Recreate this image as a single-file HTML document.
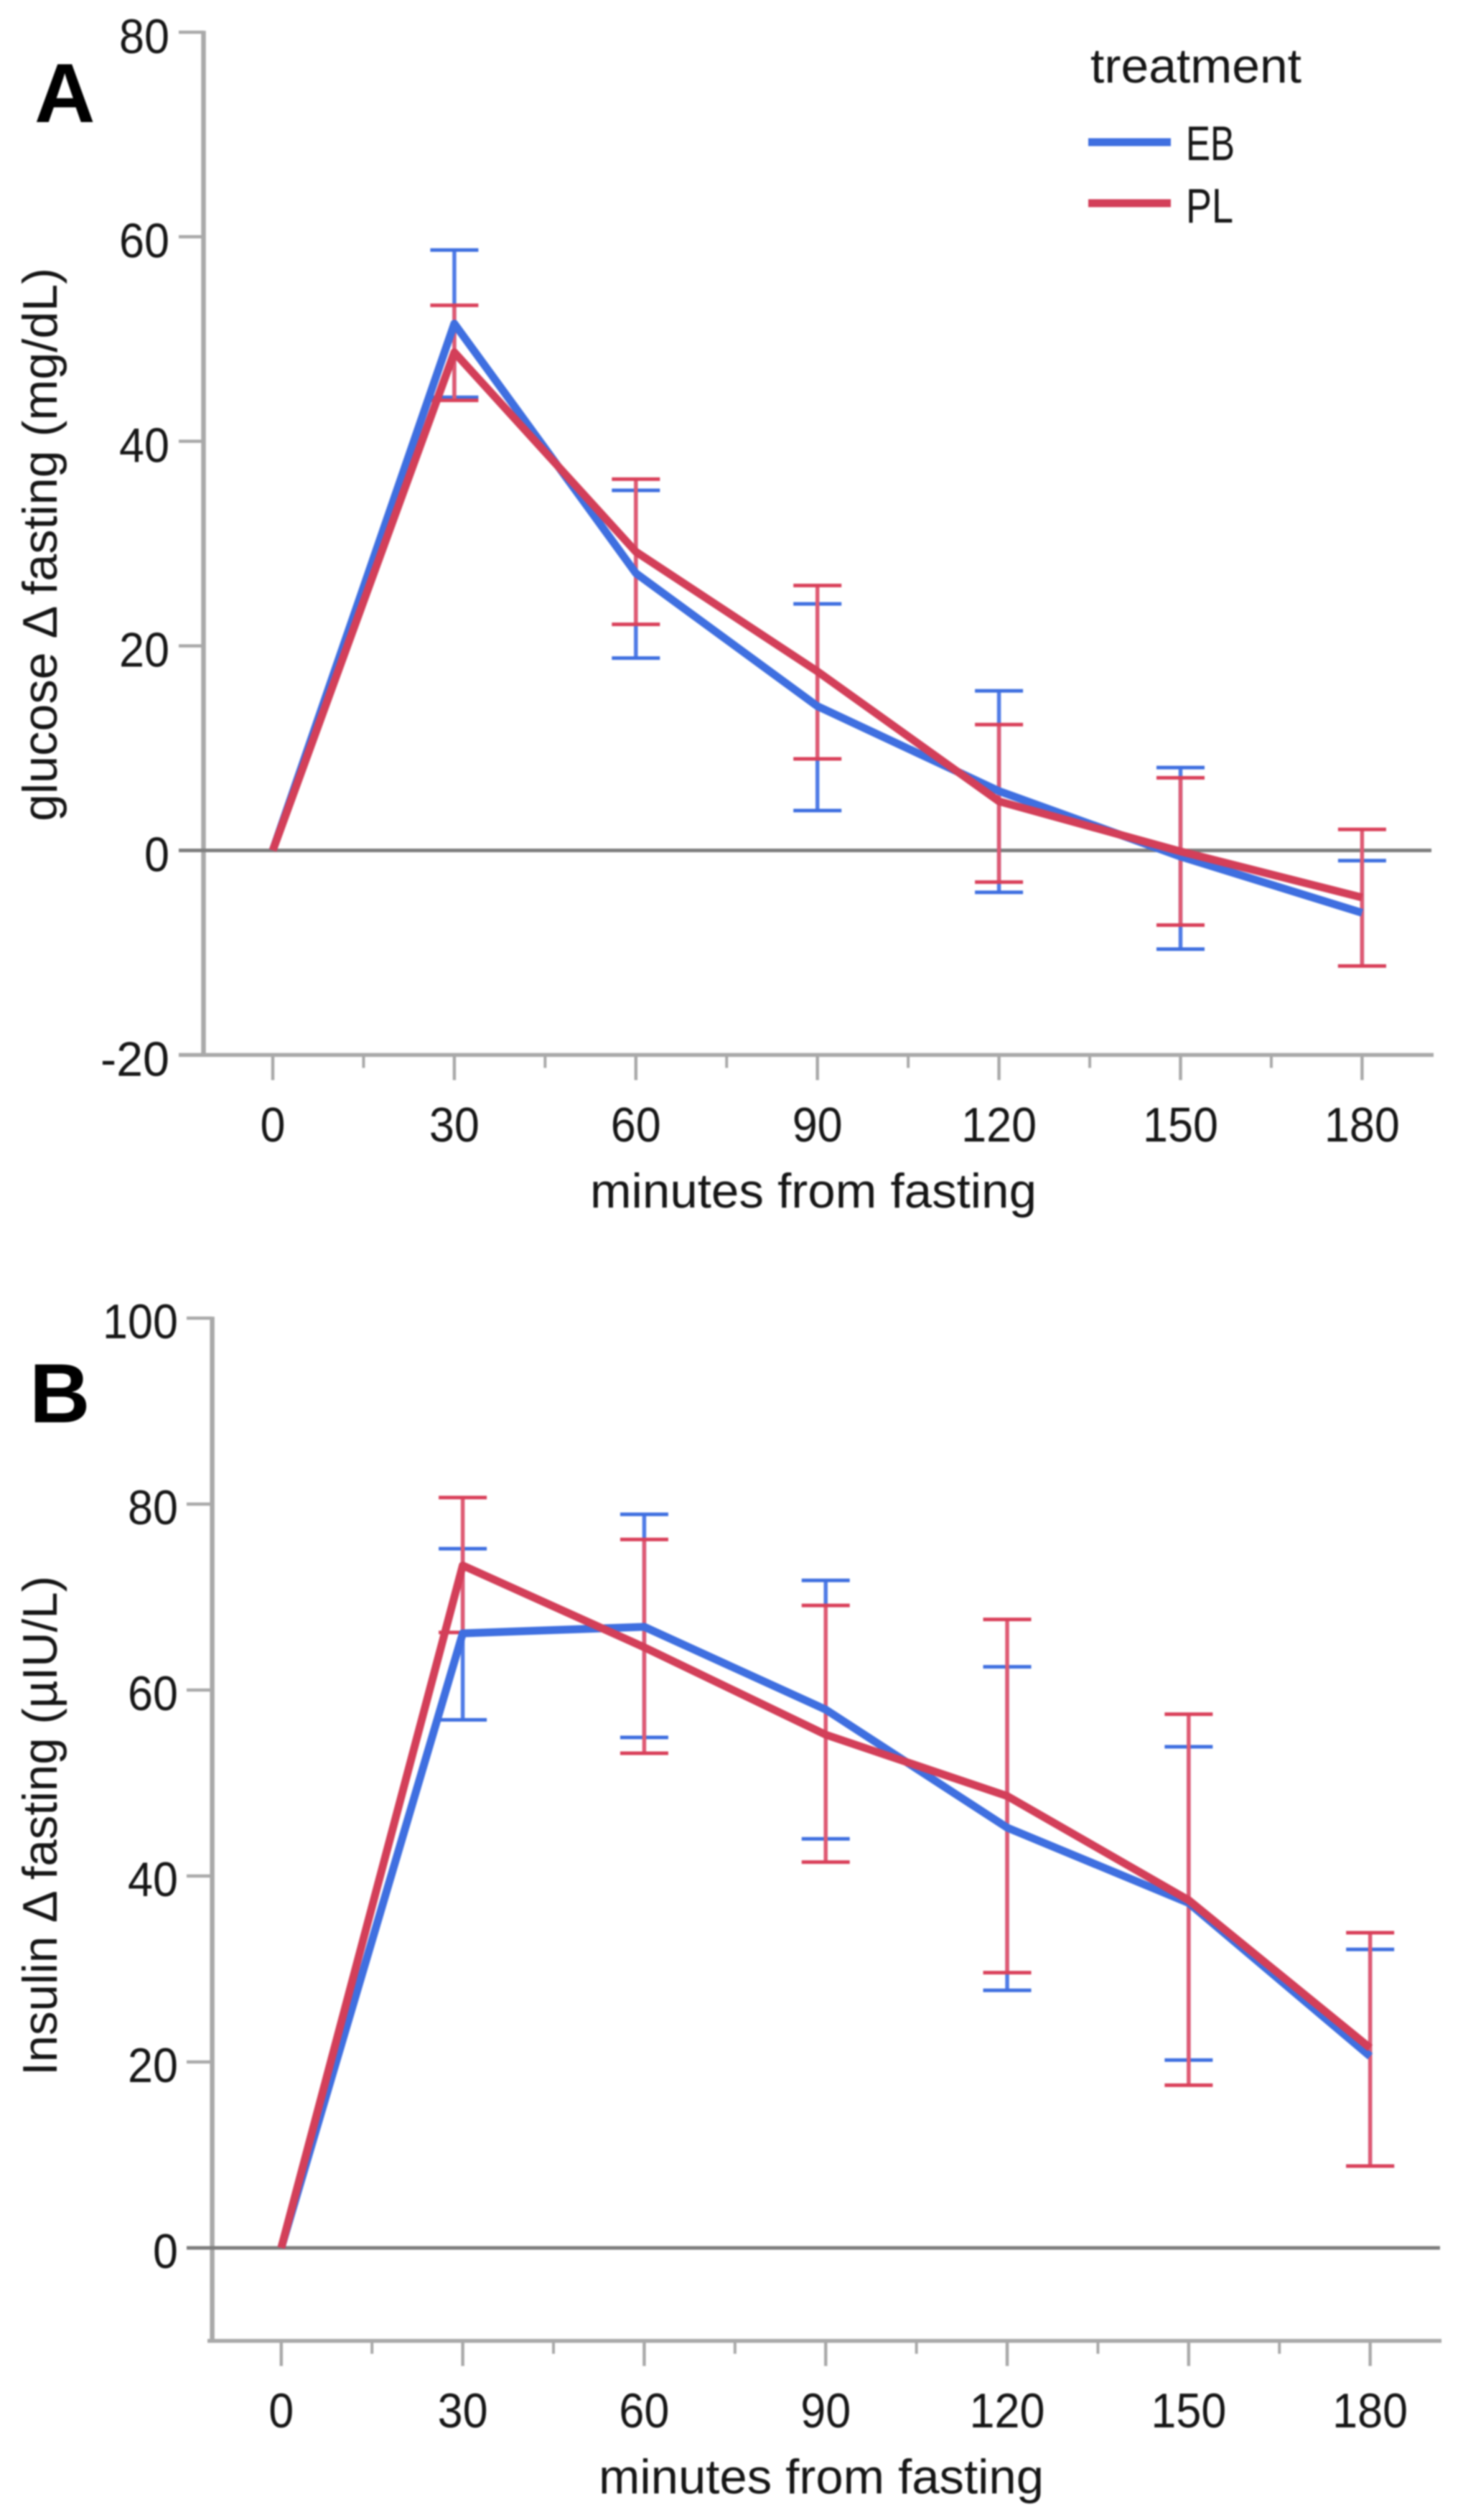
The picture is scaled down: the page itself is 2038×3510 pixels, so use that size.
<!DOCTYPE html>
<html lang="en">
<head>
<meta charset="utf-8">
<title>Glucose and insulin change from fasting by treatment</title>
<style>
  html, body { margin: 0; padding: 0; background: #fff; }
  body { width: 2038px; height: 3510px; overflow: hidden; }
  svg { display: block; filter: blur(1px); }
  text { font-family: "Liberation Sans", "DejaVu Sans", sans-serif; fill: #161616; font-size: 68px; }
  .panel-letter { font-weight: 700; font-size: 117px; fill: #000; }
</style>
</head>
<body>
<svg id="figure" xmlns="http://www.w3.org/2000/svg" width="2038" height="3510" viewBox="0 0 2038 3510">
  <rect x="0" y="0" width="2038" height="3510" fill="#ffffff"/>

  <g id="panel-a"></g>
  <g id="panel-b"></g>

  <text class="panel-letter" x="48" y="170">A</text>
  <text class="panel-letter" x="41" y="1981">B</text>

  <text transform="translate(79 1144) rotate(-90)" textLength="771" lengthAdjust="spacingAndGlyphs">glucose Δ fasting (mg/dL)</text>
  <text transform="translate(79 2891) rotate(-90)" textLength="696" lengthAdjust="spacingAndGlyphs">Insulin Δ fasting (µIU/L)</text>

  <text x="822" y="1682" textLength="622" lengthAdjust="spacingAndGlyphs">minutes from fasting</text>
  <text x="834" y="3473" textLength="620" lengthAdjust="spacingAndGlyphs">minutes from fasting</text>

  <g>
    <text x="1519" y="115" textLength="294" lengthAdjust="spacingAndGlyphs">treatment</text>
    <line x1="1516" y1="198" x2="1631" y2="198" stroke="#3f6fe0" stroke-width="11"/>
    <text x="1652" y="223" textLength="68" lengthAdjust="spacingAndGlyphs">EB</text>
    <line x1="1516" y1="283" x2="1631" y2="283" stroke="#d33f59" stroke-width="11"/>
    <text x="1652" y="310" textLength="66" lengthAdjust="spacingAndGlyphs">PL</text>
  </g>
</svg>

<script>
// ---- shared categories ----
const minutes = [0, 30, 60, 90, 120, 150, 180];
const minorMinutes = [15, 45, 75, 105, 135, 165];

// ---- panel A: glucose change from fasting (mg/dL) ----
const glucoseTicks = [80, 60, 40, 20, 0, -20];
const glucoseEbMean = [0, 51.5, 27.1, 14.1, 5.8, -0.6, -6.1];
const glucoseEbUpper = [0, 58.7, 35.2, 24.1, 15.6, 8.1, -1.0];
const glucoseEbLower = [0, 44.3, 18.8, 3.9, -4.1, -9.65, -11.3];
const glucosePlMean = [0, 48.7, 29.2, 17.5, 4.8, -0.1, -4.6];
const glucosePlUpper = [0, 53.3, 36.3, 25.9, 12.3, 7.1, 2.05];
const glucosePlLower = [0, 44.0, 22.1, 8.95, -3.1, -7.3, -11.3];

// ---- panel B: insulin change from fasting (uIU/L) ----
const insulinTicks = [100, 80, 60, 40, 20, 0];
const insulinEbMean = [0, 66.1, 66.8, 57.9, 45.2, 37.1, 20.6];
const insulinEbUpper = [0, 75.2, 78.9, 71.8, 62.5, 53.9, 32.1];
const insulinEbLower = [0, 56.8, 54.9, 44.0, 27.7, 20.2, 8.8];
const insulinPlMean = [0, 73.4, 64.6, 55.2, 48.6, 37.4, 21.5];
const insulinPlUpper = [0, 80.7, 76.2, 69.1, 67.6, 57.4, 33.9];
const insulinPlLower = [0, 66.2, 53.2, 41.5, 29.6, 17.5, 8.8];

const SVG_NS = 'http://www.w3.org/2000/svg';

function makeScale(originPx, pxPerUnit) {
  return function (v) { return originPx + v * pxPerUnit; };
}

function shape(parent, tag, props) {
  const el = document.createElementNS(SVG_NS, tag);
  Object.keys(props).forEach(function (k) { el.setAttribute(k, props[k]); });
  parent.appendChild(el);
  return el;
}

// Width the source's narrower numerals occupy for a printed tick value.
function numeralWidth(value) {
  const s = String(value);
  return s.replace('-', '').length * 35 + (s.charAt(0) === '-' ? 26 : 0);
}

function drawSeries(group, x, y, key, upper, lower, stemColor, capColor, capHalf) {
  minutes.forEach(function (m, i) {
    if (upper[i] === lower[i]) { return; }
    const px = x(m);
    const stem = shape(group, 'line', { x1: px, x2: px, y1: y(upper[i]), y2: y(lower[i]), stroke: stemColor, 'stroke-width': 5.5 });
    
    
    const top = shape(group, 'line', { x1: px - capHalf, x2: px + capHalf, y1: y(upper[i]), y2: y(upper[i]), stroke: capColor, 'stroke-width': 5 });
    
    
    const bottom = shape(group, 'line', { x1: px - capHalf, x2: px + capHalf, y1: y(lower[i]), y2: y(lower[i]), stroke: capColor, 'stroke-width': 5 });
    
    
  });
}

function drawLine(group, x, y, key, mean, color) {
  const pts = minutes.map(function (m, i) { return x(m) + ',' + y(mean[i]); }).join(' ');
  const line = shape(group, 'polyline', { points: pts, fill: 'none', stroke: color, 'stroke-width': 11, 'stroke-linejoin': 'round' });
  
  
}

function drawPanel(cfg) {
  const group = document.getElementById(cfg.id);
  const x = makeScale(cfg.xOrigin, cfg.xPerMinute);
  const y = makeScale(cfg.yZero, -cfg.yPerUnit);
  const axisColor = '#a9a9a9';

  const yAxis = shape(group, 'line', { x1: cfg.axisX, x2: cfg.axisX, y1: y(cfg.ticks[0]) - 2, y2: y(cfg.yMin) + 2, stroke: axisColor, 'stroke-width': 6.5 });
  
  

  const xAxis = shape(group, 'line', { x1: cfg.xAxisStart, x2: cfg.xAxisEnd, y1: y(cfg.yMin), y2: y(cfg.yMin), stroke: axisColor, 'stroke-width': 5.5 });
  
  

  cfg.ticks.forEach(function (t) {
    const tick = shape(group, 'line', { x1: cfg.yTickStart, x2: cfg.axisX, y1: y(t), y2: y(t), stroke: axisColor, 'stroke-width': 4.5 });
    
    
    const label = shape(group, 'text', { x: cfg.yLabelRight, y: y(t) + cfg.yLabelDrop, 'text-anchor': 'end', textLength: numeralWidth(t), lengthAdjust: 'spacingAndGlyphs' });
    label.textContent = String(t);
    
    
  });

  const zero = shape(group, 'line', { x1: cfg.yTickStart, x2: cfg.zeroEnd, y1: y(0), y2: y(0), stroke: '#7d7d7d', 'stroke-width': 5 });
  
  

  minutes.forEach(function (m) {
    const tick = shape(group, 'line', { x1: x(m), x2: x(m), y1: y(cfg.yMin), y2: y(cfg.yMin) + 35, stroke: axisColor, 'stroke-width': 4.5 });
    
    
    const label = shape(group, 'text', { x: x(m), y: cfg.xLabelBaseline, 'text-anchor': 'middle', textLength: numeralWidth(m), lengthAdjust: 'spacingAndGlyphs' });
    label.textContent = String(m);
    
    
  });

  minorMinutes.forEach(function (m) {
    const tick = shape(group, 'line', { x1: x(m), x2: x(m), y1: y(cfg.yMin), y2: y(cfg.yMin) + 18, stroke: axisColor, 'stroke-width': 4 });
    
    
  });

  drawSeries(group, x, y, 'eb', cfg.ebUpper, cfg.ebLower, '#4f7be6', '#3f6fe0', 33.5);
  drawSeries(group, x, y, 'pl', cfg.plUpper, cfg.plLower, '#df5a73', '#d9405a', 33.5);
  drawLine(group, x, y, 'eb', cfg.ebMean, '#3f6fe0');
  drawLine(group, x, y, 'pl', cfg.plMean, '#d33f59');
}

drawPanel({
  id: 'panel-a', ticks: glucoseTicks, yMin: -20,
  xOrigin: 380, xPerMinute: 8.43, yZero: 1184.5, yPerUnit: 14.246,
  axisX: 283.5, xAxisStart: 249, xAxisEnd: 1997, yTickStart: 249, zeroEnd: 1994,
  yLabelRight: 236, yLabelDrop: 29, xLabelBaseline: 1590,
  ebMean: glucoseEbMean, ebUpper: glucoseEbUpper, ebLower: glucoseEbLower,
  plMean: glucosePlMean, plUpper: glucosePlUpper, plLower: glucosePlLower
});

drawPanel({
  id: 'panel-b', ticks: insulinTicks, yMin: -10,
  xOrigin: 391.8, xPerMinute: 8.427, yZero: 3131, yPerUnit: 12.95,
  axisX: 295.6, xAxisStart: 289, xAxisEnd: 2008, yTickStart: 260, zeroEnd: 2006,
  yLabelRight: 248, yLabelDrop: 28, xLabelBaseline: 3381,
  ebMean: insulinEbMean, ebUpper: insulinEbUpper, ebLower: insulinEbLower,
  plMean: insulinPlMean, plUpper: insulinPlUpper, plLower: insulinPlLower
});
</script>
</body>
</html>
